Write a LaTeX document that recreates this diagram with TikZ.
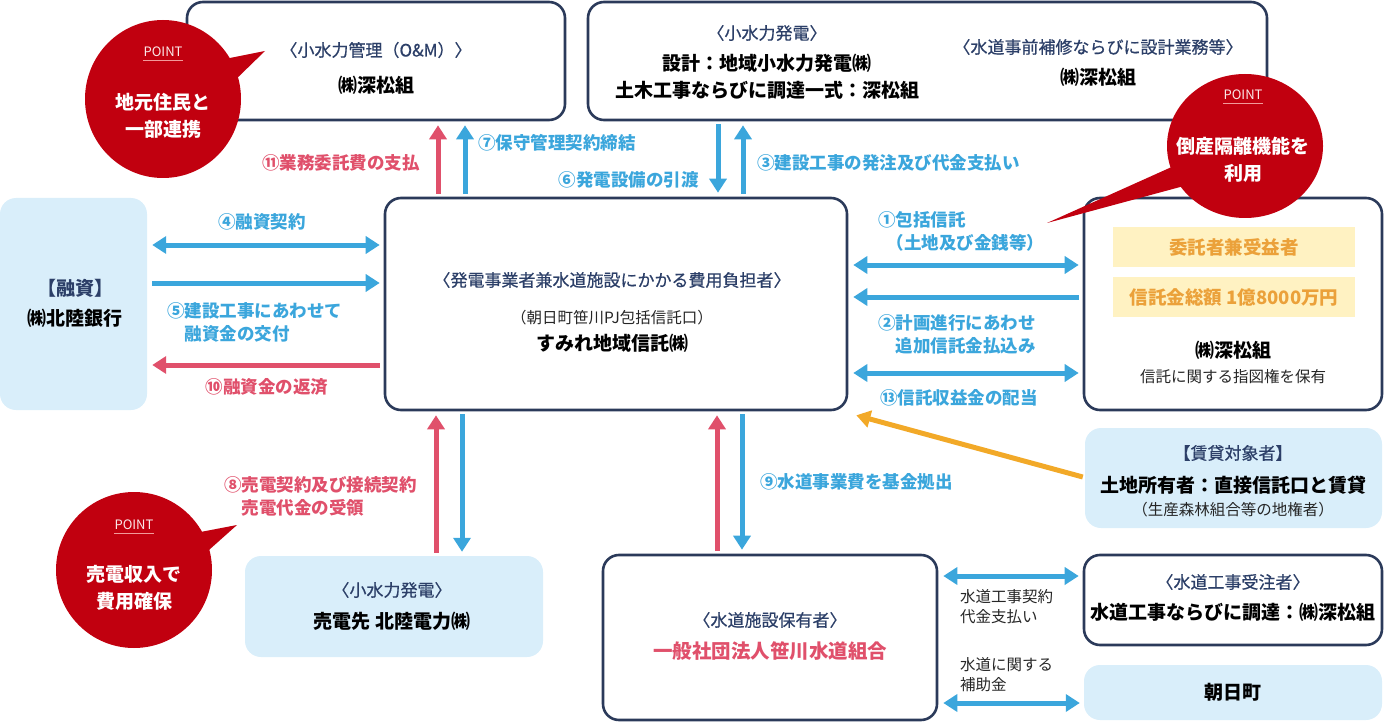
\documentclass[tikz,border=0pt]{standalone}
\usepackage{fontspec}
\setmainfont{Noto Sans CJK JP}
\newfontfamily\jpmed[FakeBold=0.6]{Noto Sans CJK JP}
\usetikzlibrary{arrows.meta}
\definecolor{navyc}{HTML}{2B3A5A}
\definecolor{headc}{HTML}{2C3F68}
\definecolor{bluec}{HTML}{3BA6DC}
\definecolor{redc}{HTML}{E0506B}
\definecolor{lbluec}{HTML}{D9EEFA}
\definecolor{ptred}{HTML}{C1000F}
\definecolor{yelc}{HTML}{FFF2C2}
\definecolor{orc}{HTML}{EBA13A}
\definecolor{orarr}{HTML}{F2A928}
\definecolor{ptline}{HTML}{F29A9A}
\definecolor{ptext}{HTML}{FBE9E9}
\begin{document}
\begin{tikzpicture}[x=1pt,y=-1pt,
 wbox/.style={draw=navyc, line width=2.6pt, rounded corners=16pt, fill=white, inner sep=0pt},
 lbox/.style={fill=lbluec, rounded corners=16pt, inner sep=0pt},
 ybox/.style={fill=yelc, inner sep=0pt},
 txt/.style={inner sep=0pt, align=center},
 hdtxt/.style={txt, text=headc, font=\jpmed\fontsize{17}{21}\selectfont},
 mntxt/.style={txt, font=\fontsize{19}{23}\selectfont\bfseries},
 smtxt/.style={txt, font=\fontsize{15.5}{20}\selectfont, text=black!85},
 lbl/.style={inner sep=0pt, align=left, font=\fontsize{17.5}{23}\selectfont\bfseries},
 blbl/.style={lbl, text=bluec},
 rlbl/.style={lbl, text=redc},
 slbl/.style={inner sep=0pt, align=left, font=\fontsize{15.5}{20}\selectfont, text=black!85},
 ahd/.style={-{Triangle[length=14pt,width=17pt]}},
 dhd/.style={{Triangle[length=14pt,width=17pt]}-{Triangle[length=14pt,width=17pt]}},
 barr/.style={line width=5pt, draw=bluec},
 rarr/.style={line width=5pt, draw=redc},
 oarr/.style={line width=5pt, draw=orarr},
 pttitle/.style={inner sep=0pt, text=ptext, font=\fontsize{13}{15}\selectfont},
 pttxt/.style={inner sep=0pt, align=center, text=white, font=\fontsize{19}{27}\selectfont\bfseries},
]
\useasboundingbox (0,0) rectangle (1384,722);

% ---------- boxes ----------
\node[wbox, minimum width=378pt, minimum height=118pt] (om) at (376,61) {};
\node[wbox, minimum width=679pt, minimum height=118pt] (gen) at (927.5,61) {};
\node[lbox, minimum width=147pt, minimum height=212pt] (bank) at (73.5,304) {};
\node[wbox, minimum width=462pt, minimum height=212pt] (trust) at (616,304) {};
\node[wbox, minimum width=298pt, minimum height=212pt] (settlor) at (1233,304) {};
\node[ybox, minimum width=242pt, minimum height=40pt] (y1) at (1234,247) {};
\node[ybox, minimum width=242pt, minimum height=40pt] (y2) at (1234,297) {};
\node[lbox, minimum width=297pt, minimum height=100pt] (lease) at (1233.5,478) {};
\node[lbox, minimum width=298pt, minimum height=101pt] (sell) at (394,606.5) {};
\node[wbox, minimum width=334pt, minimum height=165pt] (water) at (770,637.5) {};
\node[wbox, minimum width=298pt, minimum height=90pt] (contr) at (1233,600) {};
\node[lbox, minimum width=298pt, minimum height=55pt] (town) at (1233,692.5) {};

% ---------- box texts ----------
\node[hdtxt] (omh) at (376,50) {〈小水力管理（O\&M）〉};
\node[mntxt] (omt) at (376,85) {㈱深松組};
\node[hdtxt] (genh) at (767,33) {〈小水力発電〉};
\node[mntxt] (gent1) at (767,63) {設計：地域小水力発電㈱};
\node[mntxt] (gent2) at (767,90) {土木工事ならびに調達一式：深松組};
\node[hdtxt] (genh2) at (1098,47) {〈水道事前補修ならびに設計業務等〉};
\node[mntxt] (gent3) at (1098,77) {㈱深松組};
\node[mntxt, text=headc] (bankh) at (75,288) {【融資】};
\node[mntxt] (bankt) at (75,318) {㈱北陸銀行};
\node[hdtxt] (trusth) at (612,280) {〈発電事業者兼水道施設にかかる費用負担者〉};
\node[smtxt] (trusts) at (612,318) {（朝日町笹川PJ包括信託口）};
\node[mntxt] (trustt) at (612,343) {すみれ地域信託㈱};
\node[mntxt, text=orc, font=\fontsize{18.5}{22}\selectfont\bfseries] (y1t) at (y1) {委託者兼受益者};
\node[mntxt, text=orc, font=\fontsize{18.5}{22}\selectfont\bfseries] (y2t) at (y2) {信託金総額 1億8000万円};
\node[mntxt] (sett) at (1233,350) {㈱深松組};
\node[smtxt] (setts) at (1233,377) {信託に関する指図権を保有};
\node[hdtxt] (leaseh) at (1233,453) {【賃貸対象者】};
\node[mntxt] (leaset) at (1233,485) {土地所有者：直接信託口と賃貸};
\node[smtxt] (leases) at (1233,510) {（生産森林組合等の地権者）};
\node[hdtxt] (sellh) at (392,590) {〈小水力発電〉};
\node[mntxt] (sellt) at (392,621) {売電先 北陸電力㈱};
\node[hdtxt] (waterh) at (770,620) {〈水道施設保有者〉};
\node[mntxt, text=redc, font=\fontsize{19.5}{23}\selectfont\bfseries] (watert) at (770,651) {一般社団法人笹川水道組合};
\node[hdtxt] (contrh) at (1233,582) {〈水道工事受注者〉};
\node[mntxt] (contrt) at (1233,612) {水道工事ならびに調達：㈱深松組};
\node[mntxt] (townt) at (town) {朝日町};

% ---------- connectors ----------
\draw[rarr,ahd] ([xshift=-178pt,yshift=3pt]trust.north) -- ([xshift=-178pt,yshift=-4pt]trust.north |- om.south);
\draw[barr,ahd] ([xshift=-151pt,yshift=3pt]trust.north) -- ([xshift=-151pt,yshift=-4pt]trust.north |- om.south);
\draw[barr,ahd] ([xshift=102pt,yshift=-3pt]trust.north |- gen.south) -- ([xshift=102pt,yshift=4pt]trust.north);
\draw[barr,ahd] ([xshift=127pt,yshift=3pt]trust.north) -- ([xshift=127pt,yshift=-4pt]trust.north |- gen.south);

\draw[barr,dhd] ([xshift=5pt,yshift=59pt]bank.east) -- ([xshift=-4pt,yshift=59pt]trust.west);
\draw[barr,ahd] ([xshift=5pt,yshift=21pt]bank.east) -- ([xshift=-4pt,yshift=21pt]trust.west);
\draw[rarr,ahd] ([xshift=-4pt,yshift=-61pt]trust.west) -- ([xshift=5pt,yshift=-61pt]bank.east);

\draw[barr,dhd] ([xshift=5pt,yshift=39pt]trust.east) -- ([xshift=-4pt,yshift=39pt]settlor.west);
\draw[barr,ahd] ([xshift=-4pt,yshift=7pt]settlor.west) -- ([xshift=5pt,yshift=7pt]trust.east);
\draw[barr,dhd] ([xshift=5pt,yshift=-69pt]trust.east) -- ([xshift=-4pt,yshift=-69pt]settlor.west);

\draw[oarr,ahd] ([xshift=-2pt,yshift=1pt]lease.west) -- ([xshift=8pt,yshift=-4pt]trust.south east);

\draw[rarr,ahd] ([xshift=42pt,yshift=3pt]sell.north) -- ([xshift=42pt,yshift=-4pt]sell.north |- trust.south);
\draw[barr,ahd] ([xshift=68pt,yshift=-3pt]sell.north |- trust.south) -- ([xshift=68pt,yshift=4pt]sell.north);
\draw[rarr,ahd] ([xshift=-53pt,yshift=3pt]water.north) -- ([xshift=-53pt,yshift=-4pt]water.north |- trust.south);
\draw[barr,ahd] ([xshift=-28pt,yshift=-3pt]water.north |- trust.south) -- ([xshift=-28pt,yshift=4pt]water.north);

\draw[barr,dhd] ([xshift=5pt,yshift=24pt]contr.west -| water.east) -- ([xshift=-4pt,yshift=24pt]contr.west);
\draw[barr,dhd] ([xshift=5pt,yshift=-10.5pt]town.west -| water.east) -- ([xshift=-4pt,yshift=-10.5pt]town.west);

% ---------- connector labels ----------
\node[rlbl, anchor=east] (l11) at (420,163) {⑪業務委託費の支払};
\node[blbl, anchor=west] (l7) at (478,143) {⑦保守管理契約締結};
\node[blbl, anchor=east] (l6) at (699,180) {⑥発電設備の引渡};
\node[blbl, anchor=west] (l3) at (757,163) {③建設工事の発注及び代金支払い};
\node[blbl] (l4) at (262,222) {④融資契約};
\node[blbl, anchor=west] (l5) at (167,322.5) {⑤建設工事にあわせて\\\phantom{⑤}融資金の交付};
\node[rlbl] (l10) at (267,387) {⑩融資金の返済};
\node[blbl, anchor=west] (l1) at (878,231.5) {①包括信託\\\hspace{0.5em}（土地及び金銭等）};
\node[blbl, anchor=west] (l2) at (878,334) {②計画進行にあわせ\\\phantom{②}追加信託金払込み};
\node[blbl, anchor=west] (l13) at (880,398) {⑬信託収益金の配当};
\node[rlbl, anchor=west] (l8) at (224,496.5) {⑧売電契約及び接続契約\\\phantom{⑧}売電代金の受領};
\node[blbl, anchor=west] (l9) at (760,482) {⑨水道事業費を基金拠出};
\node[slbl, anchor=west] (lw1) at (960,607) {水道工事契約\\代金支払い};
\node[slbl, anchor=west] (lw2) at (960,675) {水道に関する\\補助金};

% ---------- POINT bubbles ----------
\fill[ptred] (163,99) ellipse [x radius=78pt, y radius=79pt];
\fill[ptred] (220,60) -- (265,51) -- (230,85) -- cycle;
\node[pttitle] (p1) at (163,52) {POINT};
\draw[ptline, line width=0.8pt] ([yshift=-3pt]p1.south west) -- ([yshift=-3pt]p1.south east);
\node[pttxt] (p1t) at (163,116) {地元住民と\\一部連携};

\fill[ptred] (1245,146) ellipse [x radius=78pt, y radius=72pt];
\fill[ptred] (1185,161) -- (1047,223) -- (1195,183) -- cycle;
\node[pttitle] (p2) at (1243,95) {POINT};
\draw[ptline, line width=0.8pt] ([yshift=-3pt]p2.south west) -- ([yshift=-3pt]p2.south east);
\node[pttxt] (p2t) at (1243,160) {倒産隔離機能を\\利用};

\fill[ptred] (134,570) ellipse [x radius=78pt, y radius=78pt];
\fill[ptred] (190,534) -- (237,525) -- (200,558) -- cycle;
\node[pttitle] (p3) at (134,525) {POINT};
\draw[ptline, line width=0.8pt] ([yshift=-3pt]p3.south west) -- ([yshift=-3pt]p3.south east);
\node[pttxt] (p3t) at (134,587.5) {売電収入で\\費用確保};
\end{tikzpicture}
\end{document}
